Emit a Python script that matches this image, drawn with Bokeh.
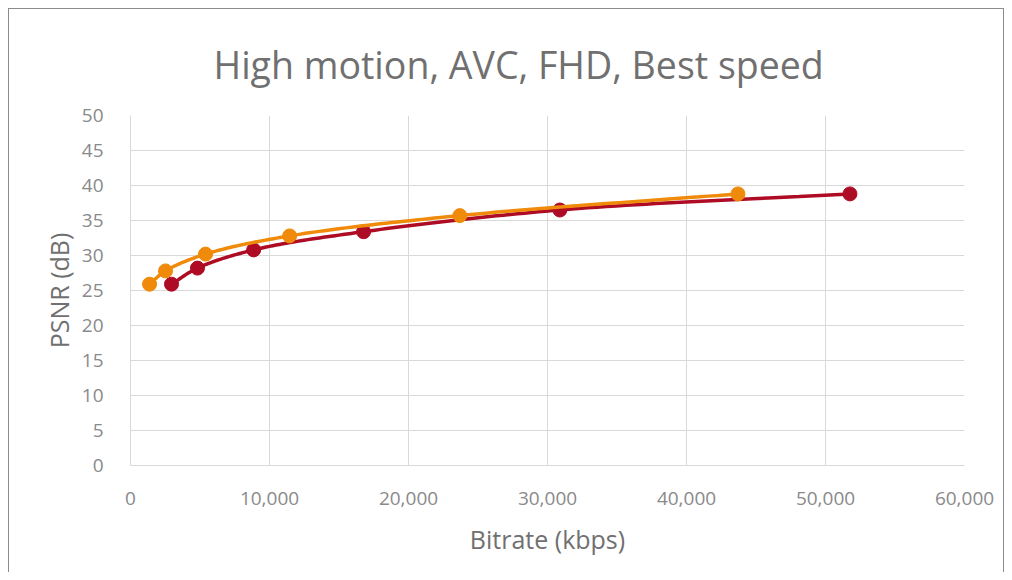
import numpy as np
from bokeh.plotting import figure
from bokeh.models import FixedTicker, NumeralTickFormatter, Range1d
from bokeh.embed import file_html
from bokeh.resources import INLINE

# Data
red_bitrate = [2950, 4820, 8860, 16770, 30890, 51760]
red_psnr = [25.9, 28.2, 30.8, 33.4, 36.5, 38.8]
orange_bitrate = [1370, 2520, 5400, 11450, 23690, 43700]
orange_psnr = [25.9, 27.8, 30.2, 32.8, 35.7, 38.8]

x_ticks = [0, 10000, 20000, 30000, 40000, 50000, 60000]
y_ticks = [0, 5, 10, 15, 20, 25, 30, 35, 40, 45, 50]

title_text = "High motion, AVC, FHD, Best speed"
x_label = "Bitrate (kbps)"
y_label = "PSNR (dB)"

RED = "#AE0B24"
ORANGE = "#F08A0A"
FONT = "Open Sans"


def smooth(xs, ys, xspan=60000.0, yspan=50.0, n=30):
    """Centripetal Catmull-Rom through the points, computed in normalised space."""
    px = np.asarray(xs, float) / xspan * 833.0
    py = np.asarray(ys, float) / yspan * 349.0
    P = np.column_stack([px, py])
    P = np.vstack([2 * P[0] - P[1], P, 2 * P[-1] - P[-2]])
    out = []
    for i in range(1, len(P) - 2):
        p0, p1, p2, p3 = P[i - 1], P[i], P[i + 1], P[i + 2]
        def tj(ti, a, b):
            return ti + np.linalg.norm(b - a) ** 0.5
        t0 = 0.0
        t1 = tj(t0, p0, p1)
        t2 = tj(t1, p1, p2)
        t3 = tj(t2, p2, p3)
        for t in np.linspace(t1, t2, n, endpoint=(i == len(P) - 3)):
            A1 = (t1 - t) / (t1 - t0) * p0 + (t - t0) / (t1 - t0) * p1
            A2 = (t2 - t) / (t2 - t1) * p1 + (t - t1) / (t2 - t1) * p2
            A3 = (t3 - t) / (t3 - t2) * p2 + (t - t2) / (t3 - t2) * p3
            B1 = (t2 - t) / (t2 - t0) * A1 + (t - t0) / (t2 - t0) * A2
            B2 = (t3 - t) / (t3 - t1) * A2 + (t - t1) / (t3 - t1) * A3
            C = (t2 - t) / (t2 - t1) * B1 + (t - t1) / (t2 - t1) * B2
            out.append(C)
    out = np.array(out)
    return out[:, 0] / 833.0 * xspan, out[:, 1] / 349.0 * yspan


p = figure(
    width=996, height=564,
    output_backend="svg", toolbar_location=None,
    x_range=Range1d(0, 60000), y_range=Range1d(0, 50),
    min_border_left=121, min_border_right=41,
    min_border_top=106, min_border_bottom=108,
    title=title_text,
)
p.styles = {
    "margin": "8px 0 0 8px",
    "border-top": "1px solid #8c8c8c",
    "border-left": "1px solid #8c8c8c",
    "border-right": "1px solid #8c8c8c",
}

p.title.align = "left"
p.title.offset = 83
p.title.text_font = FONT
p.title.text_font_size = "37.5px"
p.title.text_font_style = "normal"
p.title.text_color = "#707070"
p.title.standoff = 52

p.outline_line_color = None
p.background_fill_color = "white"
p.border_fill_color = "white"

for ax in (p.xaxis[0], p.yaxis[0]):
    ax.axis_line_color = "#d9d9d9"
    ax.axis_line_width = 1
    ax.major_tick_line_color = None
    ax.minor_tick_line_color = None
    ax.major_label_text_font = FONT
    ax.major_label_text_font_size = "19px"
    ax.major_label_text_color = "#8a8a8a"
    ax.axis_label_text_font = FONT
    ax.axis_label_text_font_size = "25px"
    ax.axis_label_text_font_style = "normal"
    ax.axis_label_text_color = "#707070"

p.xaxis[0].ticker = FixedTicker(ticks=x_ticks)
p.xaxis[0].formatter = NumeralTickFormatter(format="0,0")
p.xaxis[0].axis_label = x_label
p.xaxis[0].major_label_standoff = 20
p.xaxis[0].axis_label_standoff = 14

p.yaxis[0].ticker = FixedTicker(ticks=y_ticks)
p.yaxis[0].axis_label = y_label
p.yaxis[0].major_label_standoff = 21
p.yaxis[0].axis_label_standoff = 3

p.xgrid.grid_line_color = "#d9d9d9"
p.ygrid.grid_line_color = "#d9d9d9"
p.xgrid.grid_line_width = 1
p.ygrid.grid_line_width = 1

rx, ry = smooth(red_bitrate, red_psnr)
ox, oy = smooth(orange_bitrate, orange_psnr)

p.line(rx, ry, line_color=RED, line_width=3.5)
p.scatter(red_bitrate, red_psnr, size=14, fill_color=RED, line_color=RED)
p.line(ox, oy, line_color=ORANGE, line_width=3.5)
p.scatter(orange_bitrate, orange_psnr, size=14, fill_color=ORANGE, line_color=ORANGE)

open("out.html", "w").write(file_html(p, INLINE))
